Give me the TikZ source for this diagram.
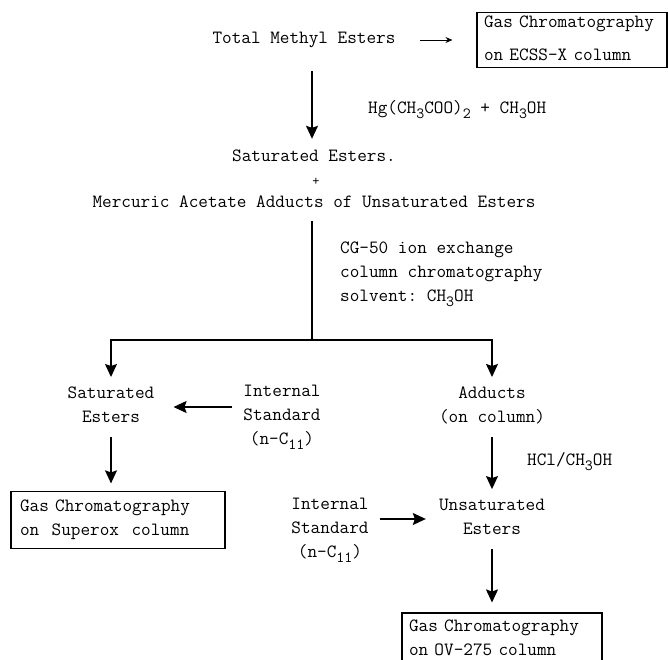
\documentclass[tikz,border=0pt]{standalone}
\usetikzlibrary{arrows.meta}

\newcommand{\lowidx}[1]{\raisebox{-5pt}{\fontsize{15.5}{15.5}\selectfont #1}}

\tikzset{
  txt/.style={font=\ttfamily\fontsize{18.7}{24}\selectfont\frenchspacing, align=center,
    inner xsep=2pt, inner ysep=10pt,
    execute at begin node={\rule{0pt}{12pt}},
    execute at end node={\rule[-4pt]{0pt}{4pt}}},
  gcbox/.style={txt, draw, line width=1.1pt, align=left, inner xsep=7pt},
  arr/.style={line width=1.3pt, -{Stealth[length=13pt,width=12pt,inset=2pt]}},
  thinarr/.style={line width=1pt, -{Stealth[length=7pt,width=6pt]}},
}

\begin{document}
\begin{tikzpicture}[x=1pt,y=-1pt]
  \useasboundingbox (0,0) rectangle (668,659);

  %top
  \node[txt] (tme) at (304,40) {Total Methyl Esters};
  \node[gcbox, text width=176pt, inner ysep=3pt] (gcA) at (572,40)
    {Gas Chromatography\\[9pt]on ECSS-X column};
  \draw[thinarr, shorten <=22pt, shorten >=24pt] (tme.east) -- (gcA.west);

  %mixture
  \coordinate (split) at (312,340);
  \node[txt, anchor=west] (hg) at (366,110)
    {Hg(CH\lowidx{3}COO)\lowidx{2} + CH\lowidx{3}OH};
  \node[txt] (se) at (314,157) {Saturated Esters.};
  \node[txt, font=\ttfamily\fontsize{14}{14}\selectfont, inner ysep=0pt] (plus) at (316,181) {+};
  \node[txt] (mix) at (314,203) {Mercuric Acetate Adducts of Unsaturated Esters};
  \node[txt, anchor=west, align=left] (cg) at (338,274)
    {CG-50 ion exchange\\column chromatography\\solvent: CH\lowidx{3}OH};
  \draw[arr, shorten <=13pt] (tme.south -| split) -- (se.north -| split);
  \draw[line width=1.3pt] (mix.south -| split) -- (split);

  %left
  \node[txt] (sat) at (111,407) {Saturated\\Esters};
  \node[txt] (isA) at (282,417) {Internal\\Standard\\(n-C\lowidx{11})};
  \node[gcbox, text width=196pt, inner xsep=9pt, inner ysep=8pt] (gcB) at (118,520)
    {Gas Chromatography\\on\ \ Superox\ \ column};
  \draw[arr] (split) -| (sat.north);
  \draw[arr, shorten <=9pt, shorten >=17pt] (isA.west |- sat) -- (sat.east);
  \draw[arr, shorten >=8pt] (sat.south) -- (sat.south |- gcB.north);

  %right
  \node[txt] (adu) at (492,407) {Adducts\\(on column)};
  \node[txt, anchor=west] (hcl) at (525,462) {HCl/CH\lowidx{3}OH};
  \node[txt] (uns) at (492,519) {Unsaturated\\Esters};
  \node[txt] (isB) at (330,530) {Internal\\Standard\\(n-C\lowidx{11})};
  \node[gcbox, text width=186pt, inner ysep=6pt] (gcC) at (502,639)
    {Gas Chromatography\\on OV-275 column};
  \draw[arr] (split) -| (adu.north);
  \draw[arr] (adu) -- (uns);
  \draw[arr, shorten <=9pt, shorten >=11pt] (isB.east |- uns) -- (uns.west);
  \draw[arr, shorten >=10pt] (uns.south) -- (uns.south |- gcC.north);
\end{tikzpicture}
\end{document}
